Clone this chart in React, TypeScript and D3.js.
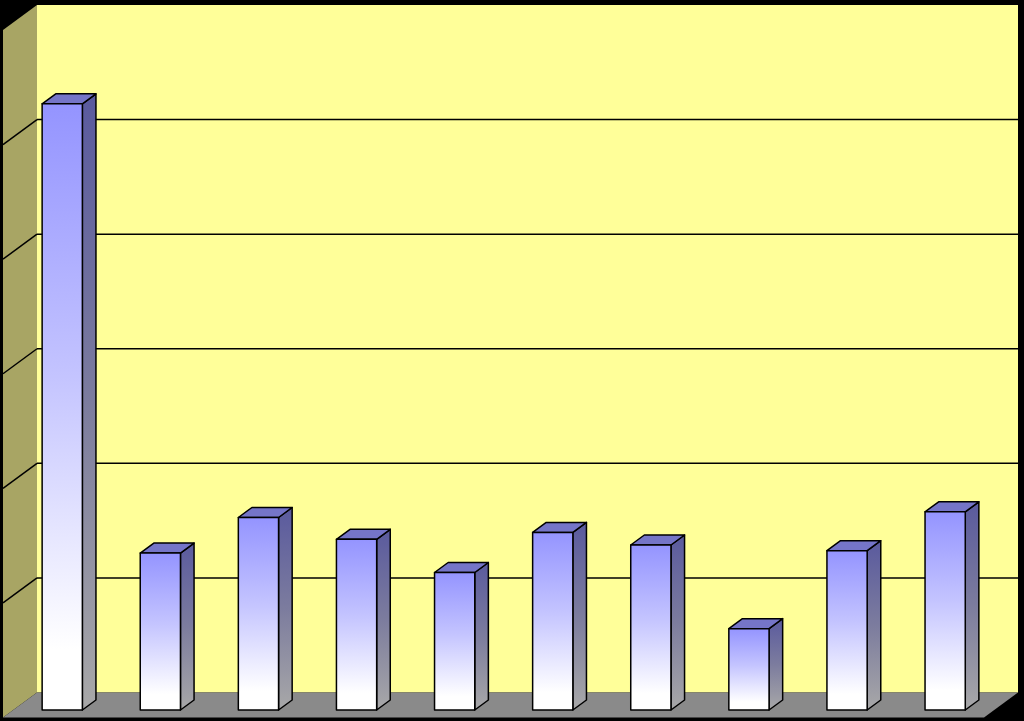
import React from 'react';
import * as d3 from 'd3';

// no axis labels are shown in the picture, categories are placeholders
const categories = ['1', '2', '3', '4', '5', '6', '7', '8', '9', '10'];
const values = [52.9, 13.7, 16.8, 14.9, 12.0, 15.5, 14.4, 7.1, 13.9, 17.3];
const gridTicks = [10, 20, 30, 40, 50];

const W = 1024;
const H = 721;

// back wall box and depth offset (oblique projection)
const wallLeft = 37;
const wallRight = 1018;
const wallTop = 5;
const wallBase = 692.5;
const depthX = -34;
const depthY = 25;
// bars occupy this slice of the floor depth (0 = wall, 1 = front edge)
const barBack = 0.3;
const barFront = 0.7;

const proj = (x: number, y: number, d: number): [number, number] => [x + depthX * d, y + depthY * d];
const pts = (arr: [number, number][]) => arr.map((p) => p.join(',')).join(' ');

export default function App() {
  const x = d3
    .scaleBand<string>()
    .domain(categories)
    .range([wallLeft, wallRight])
    .paddingInner(0.59)
    .paddingOuter(0.295);

  const y = d3.scaleLinear().domain([0, 60]).range([wallBase, wallTop]);

  const sideWall = pts([
    proj(wallLeft, wallTop, 0),
    proj(wallLeft, wallTop, 1),
    proj(wallLeft, wallBase, 1),
    proj(wallLeft, wallBase, 0),
  ]);

  const floor = pts([
    proj(wallLeft, wallBase, 0),
    proj(wallRight, wallBase, 0),
    proj(wallRight, wallBase, 1),
    proj(wallLeft, wallBase, 1),
  ]);

  const bw = x.bandwidth();

  return (
    <svg
      width={W}
      height={H}
      style={{ position: 'absolute', left: 0, top: 0, display: 'block' }}
    >
      <defs>
        <linearGradient id="frontGrad" x1="0" y1="0" x2="0" y2="1">
          <stop offset="0" stopColor="#9494ff" />
          <stop offset="0.45" stopColor="#c4c4ff" />
          <stop offset="0.9" stopColor="#ffffff" />
          <stop offset="1" stopColor="#ffffff" />
        </linearGradient>
        <linearGradient id="sideGrad" x1="0" y1="0" x2="0" y2="1">
          <stop offset="0" stopColor="#5a5a9e" />
          <stop offset="0.5" stopColor="#7c7c9e" />
          <stop offset="1" stopColor="#a8a8a8" />
        </linearGradient>
      </defs>

      <rect x={0} y={0} width={W} height={H} fill="#000000" />

      {/* walls and floor */}
      <rect
        x={wallLeft}
        y={wallTop}
        width={wallRight - wallLeft}
        height={wallBase - wallTop}
        fill="#ffff99"
      />
      <polygon points={sideWall} fill="#a8a564" />
      <polygon points={floor} fill="#8a8a8a" />

      {/* gridlines on back and side wall */}
      {gridTicks.map((t) => {
        const gy = y(t);
        const [sx, sy] = proj(wallLeft, gy, 1);
        return (
          <g key={t} stroke="#000000" strokeWidth={1.5}>
            <line x1={wallLeft} y1={gy} x2={wallRight} y2={gy} />
            <line x1={wallLeft} y1={gy} x2={sx} y2={sy} />
          </g>
        );
      })}

      {/* bars */}
      {categories.map((c, i) => {
        const x0 = x(c) as number;
        const x1 = x0 + bw;
        const top = y(values[i]);
        const fTL = proj(x0, top, barFront);
        const fTR = proj(x1, top, barFront);
        const fBR = proj(x1, wallBase, barFront);
        const fBL = proj(x0, wallBase, barFront);
        const bTL = proj(x0, top, barBack);
        const bTR = proj(x1, top, barBack);
        const bBR = proj(x1, wallBase, barBack);
        return (
          <g key={c} stroke="#000000" strokeWidth={1.5} strokeLinejoin="round">
            <polygon points={pts([fTR, bTR, bBR, fBR])} fill="url(#sideGrad)" />
            <polygon points={pts([fTL, bTL, bTR, fTR])} fill="#7575c8" />
            <polygon points={pts([fTL, fTR, fBR, fBL])} fill="url(#frontGrad)" />
          </g>
        );
      })}
    </svg>
  );
}
